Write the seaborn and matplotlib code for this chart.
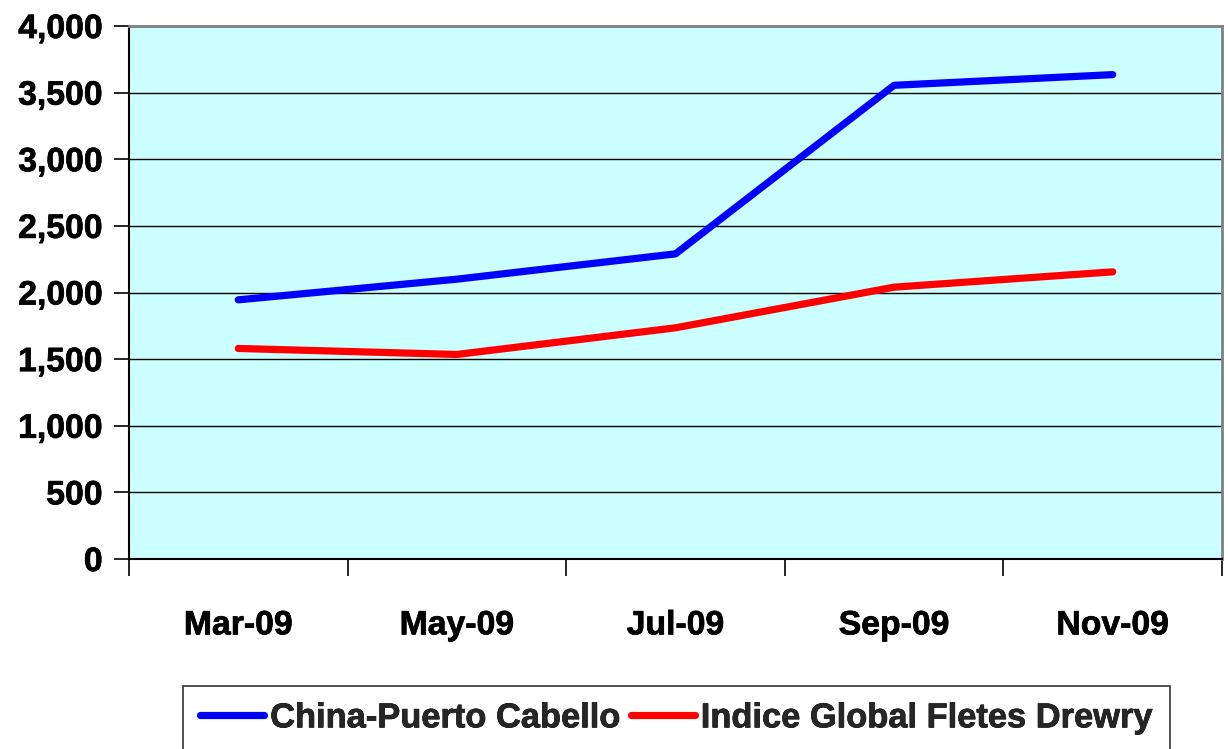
import matplotlib
matplotlib.use("Agg")
import matplotlib.pyplot as plt
import matplotlib.patheffects as pe
import seaborn as sns
import pandas as pd
from matplotlib.ticker import FuncFormatter, FixedLocator

months = ["Mar-09", "May-09", "Jul-09", "Sep-09", "Nov-09"]
china_puerto_cabello = [1945, 2100, 2290, 3555, 3635]
indice_drewry = [1580, 1535, 1735, 2040, 2155]
series_names = ["China-Puerto Cabello", "Indice Global Fletes Drewry"]
y_ticks = [0, 500, 1000, 1500, 2000, 2500, 3000, 3500, 4000]

df = pd.DataFrame({
    "month": months * 2,
    "value": china_puerto_cabello + indice_drewry,
    "series": [series_names[0]] * len(months) + [series_names[1]] * len(months),
})

sns.set_style("white")
plt.rcParams["font.family"] = ["Liberation Sans", "DejaVu Sans"]
plt.rcParams["font.weight"] = "bold"

fig = plt.figure(figsize=(12.28, 7.49), dpi=100)
ax = fig.add_axes([129 / 1228, 1 - 559 / 749, (1222 - 129) / 1228, (559 - 26) / 749])
ax.set_facecolor("#CCFFFF")

sns.lineplot(data=df, x="month", y="value", hue="series",
             palette={series_names[0]: "#0000FF", series_names[1]: "#FF0000"},
             linewidth=5.2, sort=False, ax=ax, legend=True, zorder=3)
for ln in ax.get_lines():
    ln.set_solid_capstyle("round")
    ln.set_solid_joinstyle("round")

ax.set_xlim(-0.5, len(months) - 0.5)
ax.set_ylim(0, 4000)
ax.yaxis.set_major_locator(FixedLocator(y_ticks))
ax.yaxis.set_major_formatter(FuncFormatter(lambda v, p: f"{int(v):,}"))
ax.grid(axis="y", color="#000000", linewidth=1.0, zorder=1)
ax.set_axisbelow(True)

ax.xaxis.set_major_locator(FixedLocator([i - 0.5 for i in range(len(months) + 1)]))
ax.xaxis.set_major_formatter(FuncFormatter(lambda v, p: ""))
ax.xaxis.set_minor_locator(FixedLocator(list(range(len(months)))))
ax.set_xticklabels(months, minor=True)
ax.tick_params(axis="x", which="major", direction="out", length=12, width=1.2, color="black", bottom=True)
ax.tick_params(axis="x", which="minor", length=0, pad=37, labelsize=24.3)
ax.tick_params(axis="y", which="major", direction="out", length=11, width=1.2, color="black", left=True, labelsize=24.3, pad=8)
stroke = [pe.withStroke(linewidth=0.5, foreground="black")]
for lab in ax.get_xticklabels(minor=True) + ax.get_yticklabels():
    lab.set_fontweight("bold")
    lab.set_color("black")
    lab.set_path_effects(stroke)

ax.set_xlabel("")
ax.set_ylabel("")
for side in ["top", "right"]:
    ax.spines[side].set_color("#808080")
    ax.spines[side].set_linewidth(2)
for side in ["left", "bottom"]:
    ax.spines[side].set_color("black")
    ax.spines[side].set_linewidth(1.5)

handles, labels = ax.get_legend_handles_labels()
ax.get_legend().remove()
leg = fig.legend(handles, labels, loc="upper left", bbox_to_anchor=(183 / 1228, 1 - 686 / 749),
                 ncol=2, frameon=True, fancybox=False, edgecolor="black",
                 prop={"size": 24.8, "weight": "bold"}, handlelength=1.85,
                 handletextpad=0.18, columnspacing=0.3, borderpad=0.5, borderaxespad=0)
leg.get_frame().set_linewidth(1.2)
for h in leg.get_lines():
    h.set_linewidth(5.2)
    h.set_solid_capstyle("round")
for t in leg.get_texts():
    t.set_path_effects(stroke)

fig.savefig("out.png", dpi=100)
